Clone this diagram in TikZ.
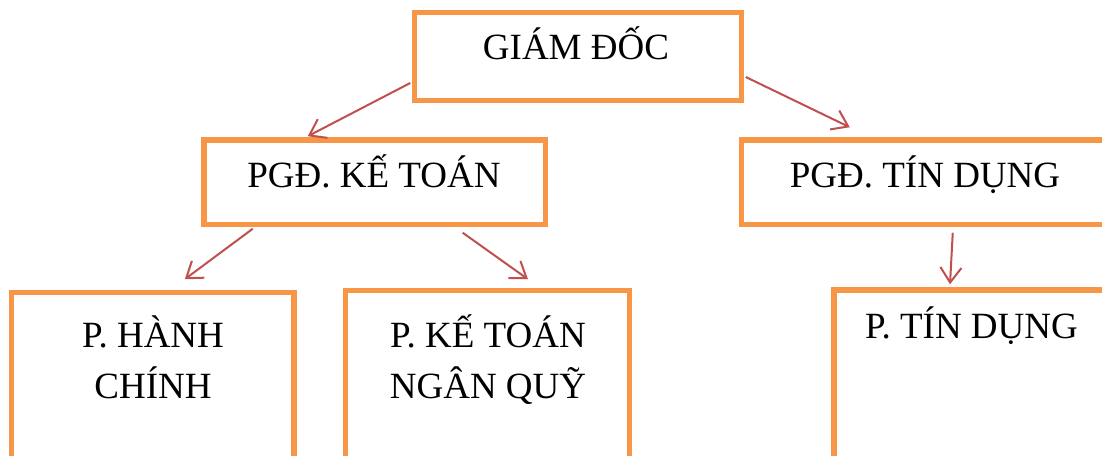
\documentclass[tikz,border=0pt]{standalone}
\usepackage{fontspec}
\setmainfont{Liberation Serif}
\usetikzlibrary{arrows.meta,calc}
\definecolor{boxor}{HTML}{F79646}
\definecolor{arrred}{HTML}{C0504D}
\begin{document}
\begin{tikzpicture}[x=1pt,y=-1pt,
  box/.style={draw=boxor,line width=5.5pt,rectangle,inner sep=0pt,minimum width=#1},
  lbl/.style={inner sep=0pt,anchor=base,font=\fontsize{37}{51}\selectfont},
  lblm/.style={lbl,align=center},
  conn/.style={draw=arrred,line width=2pt,-{Straight Barb[length=15pt,width=21pt,line width=2pt]}}]
\clip (0,0) rectangle (1102,455);
\fill[white] (0,0) rectangle (1102,455);
% boxes
\node[box=327pt,minimum height=88pt] (gd) at (578,56.5) {};
\node[box=341.5pt,minimum height=84.5pt] (kt) at (374.75,182.25) {};
\node[box=368.5pt,minimum height=84.5pt] (td) at (925.75,182.25) {};
\node[box=282.5pt,minimum height=177.5pt] (hc) at (152.75,381.25) {};
\node[box=284pt,minimum height=179.5pt] (nq) at (487.5,380.25) {};
\node[box=276pt,minimum height=180pt] (ptd) at (972,380) {};
% labels
\node[lbl] (tgd) at (576,59.5) {GIÁM ĐỐC};
\node[lbl] (tkt) at (374,187.5) {PGĐ. KẾ TOÁN};
\node[lbl] (ttd) at (925,187.5) {PGĐ. TÍN DỤNG};
\node[lblm] (thc) at (153,398.5) {P. HÀNH\\CHÍNH};
\node[lblm] (tnq) at (488,398.5) {P. KẾ TOÁN\\NGÂN QUỸ};
\node[lbl] (tptd) at (971.5,338) {P. TÍN DỤNG};
% connectors
\draw[conn] ($(gd.west)+(-1.5,26.5)$) -- ($(kt.north)+(-67,-1)$);
\draw[conn] ($(gd.east)+(1.5,20.5)$) -- ($(td.north)+(-76,-10)$);
\draw[conn] ($(kt.south)+(-122,1.5)$) -- ($(hc.north)+(32,-10.5)$);
\draw[conn] ($(kt.south)+(88,5.5)$) -- ($(nq.north)+(40.5,-8.5)$);
\draw[conn] ($(td.south)+(27,5.5)$) -- ($(ptd.north)+(-22,-3)$);
\end{tikzpicture}
\end{document}
